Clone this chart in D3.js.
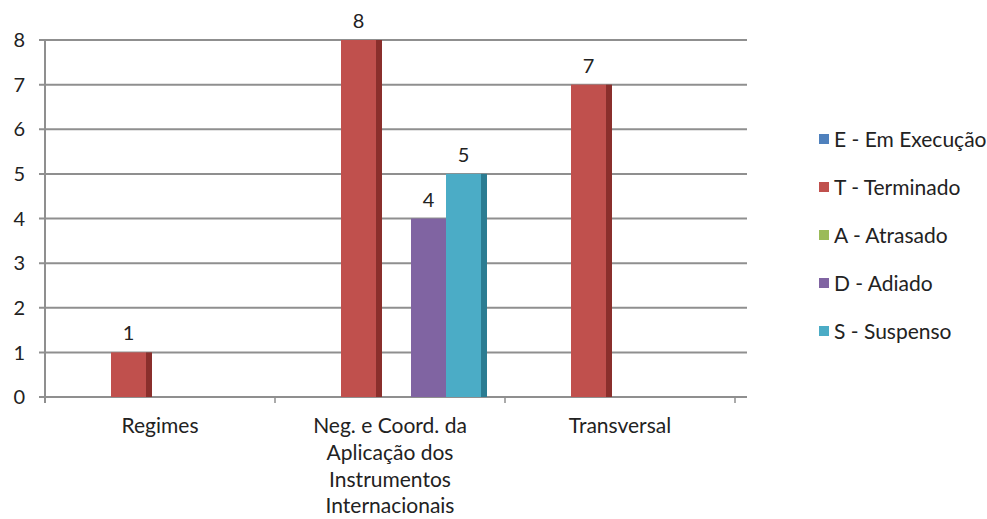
<!DOCTYPE html>
<html><head><meta charset="utf-8">
<script src="https://cdn.jsdelivr.net/npm/d3@7"></script>
<style>
html,body{margin:0;padding:0;background:#fff;}
svg{display:block;font-family:Lato,"Open Sans",sans-serif;}
</style></head>
<body><svg id="c" width="987" height="519"></svg>
<script>
const categories = [
  ["Regimes"],
  ["Neg. e Coord. da","Aplicação dos","Instrumentos","Internacionais"],
  ["Transversal"]
];
const seriesNames = ["E - Em Execução","T - Terminado","A - Atrasado","D - Adiado","S - Suspenso"];
const seriesColors = ["#4F81BD","#C0504D","#9BBB59","#8064A2","#4BACC6"];
const seriesSide = ["#2F5A8C","#8A2F2C","#6F8A3A","#5A4578","#2B7C92"];
// values[series][category]; null = no bar
const E_values = [null,null,null];
const T_values = [1,8,7];
const A_values = [null,null,null];
const D_values = [null,4,null];
const S_values = [null,5,null];
const values = [E_values,T_values,A_values,D_values,S_values];
const yTicks = [0,1,2,3,4,5,6,7,8];

const svg = d3.select("#c");
const pLeft = 45, pRight = 735, pTop = 40, pBottom = 397, gridEnd = 747;
const x0 = d3.scaleBand().domain(d3.range(categories.length)).range([pLeft,pRight]).paddingInner(55/230).paddingOuter(55/460);
const x1 = d3.scaleBand().domain(d3.range(seriesNames.length)).range([0,x0.bandwidth()]);
const y = d3.scaleLinear().domain([0,8]).range([pBottom,pTop]);
const shift = 3.5, side = 6;

// gridlines
svg.append("g").selectAll("line").data(yTicks).join("line")
  .attr("x1",pLeft-6).attr("x2",gridEnd).attr("y1",d=>y(d)).attr("y2",d=>y(d))
  .attr("stroke","#8f8f8f").attr("stroke-width",2);
// y axis line
svg.append("line").attr("x1",pLeft).attr("x2",pLeft).attr("y1",pTop).attr("y2",pBottom+6)
  .attr("stroke","#8f8f8f").attr("stroke-width",2);
// y labels
svg.append("g").selectAll("text").data(yTicks).join("text")
  .attr("x",25).attr("y",d=>y(d)).attr("dy","0.36em").attr("text-anchor","end")
  .attr("font-size",20).attr("fill","#222").text(d=>d);
// x ticks at band boundaries
const bounds = d3.range(1,categories.length+1).map(i=>pLeft+i*x0.step());
svg.append("g").selectAll("line").data(bounds).join("line")
  .attr("x1",d=>d).attr("x2",d=>d).attr("y1",pBottom).attr("y2",pBottom+6)
  .attr("stroke","#8f8f8f").attr("stroke-width",1.5);

// bars
const bars = [];
values.forEach((arr,s)=>arr.forEach((v,c)=>{ if(v!=null) bars.push({s,c,v}); }));
const g = svg.append("g");
bars.forEach(b=>{
  const bx = x0(b.c)+x1(b.s)+shift, bw = x1.bandwidth();
  g.append("rect").attr("x",bx+bw).attr("y",y(b.v)).attr("width",side).attr("height",pBottom-y(b.v))
    .attr("fill",seriesSide[b.s]);
});
bars.forEach(b=>{
  const bx = x0(b.c)+x1(b.s)+shift, bw = x1.bandwidth();
  g.append("rect").attr("x",bx).attr("y",y(b.v)).attr("width",bw).attr("height",pBottom-y(b.v))
    .attr("fill",seriesColors[b.s]);
  g.append("text").attr("x",bx+bw/2).attr("y",y(b.v)-12).attr("text-anchor","middle")
    .attr("font-size",20).attr("fill","#222").text(b.v);
});

// category labels
categories.forEach((lines,c)=>{
  const t = svg.append("text").attr("text-anchor","middle").attr("font-size",21).attr("fill","#222");
  lines.forEach((ln,i)=>t.append("tspan").attr("x",x0(c)+x0.bandwidth()/2).attr("y",433+i*26.8).text(ln));
});

// legend
const lg = svg.append("g");
seriesNames.forEach((n,i)=>{
  const cy = 139 + i*48;
  lg.append("rect").attr("x",819).attr("y",cy-5).attr("width",10).attr("height",10).attr("fill",seriesColors[i]);
  lg.append("text").attr("x",834).attr("y",cy).attr("dy","0.36em").attr("font-size",21).attr("fill","#222").text(n);
});
</script></body></html>
